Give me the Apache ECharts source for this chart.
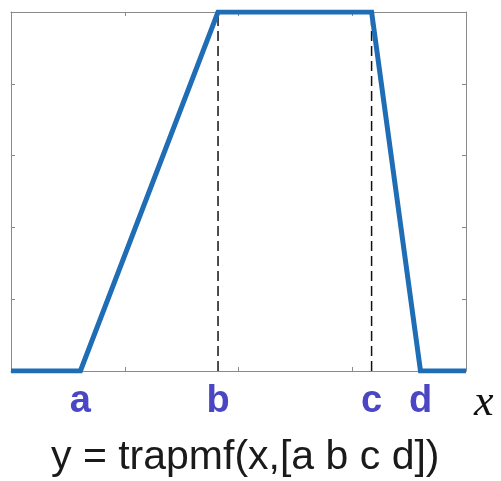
<!DOCTYPE html>
<html>
<head>
<meta charset="utf-8">
<script src="https://cdn.jsdelivr.net/npm/echarts@6/dist/echarts.min.js"></script>
<style>
  html, body { margin: 0; padding: 0; background: #fff; }
  #chart { width: 501px; height: 481px; }
</style>
</head>
<body>
<div id="chart"></div>
<script>
// trapezoid corner points a b c d, on a 0..4 axis
var paramNames = ['a', 'b', 'c', 'd'];
var paramValues = [0.61, 1.82, 3.17, 3.6];
var curveX = [0, 0.61, 1.82, 3.17, 3.6, 4];
var curveY = [0, 0, 1, 1, 0, 0];
var formulaText = 'y = trapmf(x,[a b c d])';

var AXIS_COLOR = '#8a8a8a';
var LINE_COLOR = '#1f6db5';
var LABEL_COLOR = '#4b47c4';

var curve = [];
for (var i = 0; i < curveX.length; i++) {
  curve.push([curveX[i], curveY[i]]);
}

function frameAxis(pos, isX) {
  return {
    type: 'value',
    position: pos,
    min: 0,
    max: isX ? 4 : 1,
    interval: isX ? 1 : 0.2,
    axisLine: { show: true, onZero: false, lineStyle: { color: AXIS_COLOR, width: 1 } },
    axisTick: { show: true, inside: true, length: 4, lineStyle: { color: AXIS_COLOR } },
    axisLabel: { show: false },
    splitLine: { show: false }
  };
}

// axis that only carries the a b c d labels
var labelX = {
  type: 'value',
  position: 'bottom',
  min: 0,
  max: 4,
  axisLine: { show: false },
  axisTick: { show: false },
  splitLine: { show: false },
  axisLabel: {
    show: true,
    customValues: paramValues,
    margin: 12,
    fontFamily: 'Liberation Sans',
    fontWeight: 'bold',
    fontSize: 38,
    color: LABEL_COLOR,
    formatter: function (v) {
      var k = paramValues.indexOf(v);
      return k >= 0 ? paramNames[k] : '';
    }
  }
};

var series = [];
// dashed guides at b and c
[paramValues[1], paramValues[2]].forEach(function (v) {
  series.push({
    type: 'line',
    data: [[v, 0], [v, 1]],
    symbol: 'none',
    silent: true,
    z: 1,
    lineStyle: { color: '#111', width: 1.5, type: [10, 5] }
  });
});
series.push({
  type: 'line',
  data: curve,
  symbol: 'none',
  z: 3,
  lineStyle: { color: LINE_COLOR, width: 5, join: 'miter' }
});

var chart = echarts.init(document.getElementById('chart'), null, { renderer: 'canvas' });
chart.setOption({
  animation: false,
  backgroundColor: '#ffffff',
  grid: { left: 11, right: 35, top: 12, bottom: 110 },
  xAxis: [frameAxis('bottom', true), frameAxis('top', true), labelX],
  yAxis: [frameAxis('left', false), frameAxis('right', false)],
  title: [
    {
      text: 'x',
      left: 469,
      top: 376,
      textStyle: { fontFamily: 'Liberation Serif', fontStyle: 'italic', fontWeight: 'normal', fontSize: 44, color: '#111' }
    },
    {
      text: formulaText,
      left: 46,
      top: 432,
      textStyle: { fontFamily: 'Liberation Sans', fontWeight: 'normal', fontSize: 41, color: '#1a1a1a' }
    }
  ],
  series: series
});
</script>
</body>
</html>
